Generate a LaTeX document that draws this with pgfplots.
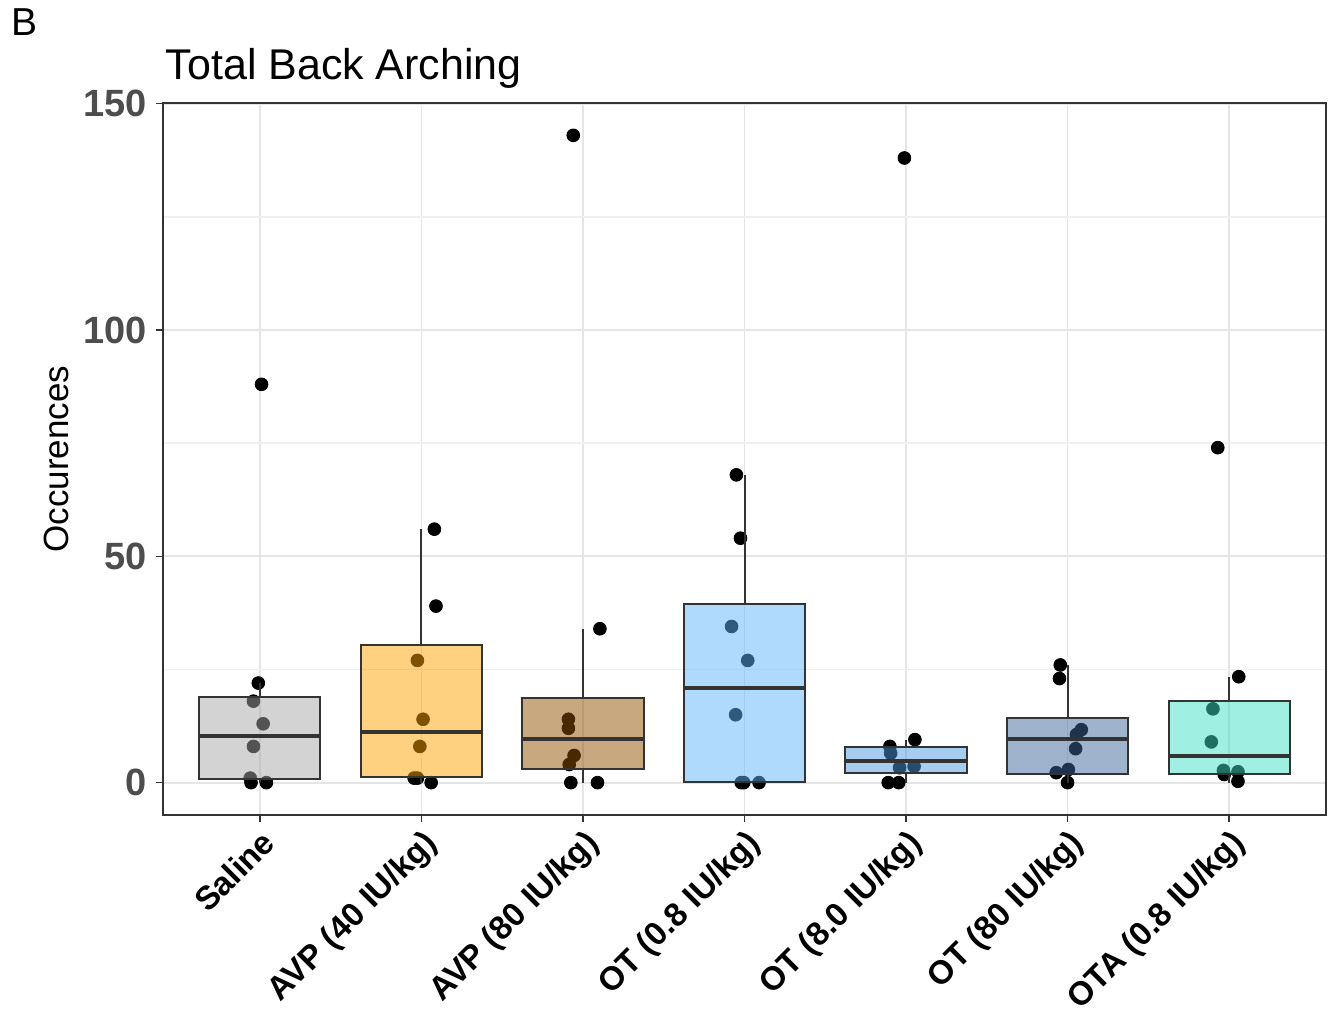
\documentclass[border=0pt]{standalone}
\usepackage{fontspec}
\setmainfont{Liberation Sans}
\usepackage{pgfplots}
\pgfplotsset{compat=1.18}
\usepgfplotslibrary{statistics}
\definecolor{c1}{RGB}{167,167,167}
\definecolor{c2}{RGB}{251,163,0}
\definecolor{c3}{RGB}{145,81,0}
\definecolor{c4}{RGB}{97,181,251}
\definecolor{c5}{RGB}{77,155,223}
\definecolor{c6}{RGB}{63,105,153}
\definecolor{c7}{RGB}{63,225,197}
\definecolor{edge}{RGB}{51,51,51}
\definecolor{ticklab}{RGB}{77,77,77}
\begin{document}
\begin{tikzpicture}
\useasboundingbox (-81.5pt,-101pt) rectangle (588pt,407.5pt);
\node[anchor=base west, font=\fontsize{19.5}{19.5}\selectfont, inner sep=0pt] at (-76pt,389.5pt) {B};
\begin{axis}[
  at={(0,0)}, anchor=south west,
  scale only axis, width=581.5pt, height=356pt,
  xmin=0.4, xmax=7.6, ymin=-7.15, ymax=150.15,
  xtick={1,2,3,4,5,6,7},
  xticklabels={Saline, AVP (40 IU/kg), AVP (80 IU/kg), OT (0.8 IU/kg), OT (8.0 IU/kg), OT (80 IU/kg), OTA (0.8 IU/kg)},
  ytick={0,50,100,150}, minor ytick={25,75,125},
  grid=both,
  major grid style={draw=black!10, line width=0.9pt},
  minor grid style={draw=black!6, line width=0.7pt},
  axis line style={draw=edge, line width=1pt},
  tick style={draw=edge, line width=0.8pt},
  tick align=outside, tick pos=left,
  major tick length=3.5pt, minor tick length=0pt,
  /pgf/number format/assume math mode=true,
  yticklabel style={font=\bfseries\fontsize{19}{19}\selectfont, text=ticklab, xshift=-1pt},
  xticklabel style={font=\bfseries\fontsize{16.5}{16.5}\selectfont, rotate=45, anchor=north east, inner sep=2pt},
  ylabel={Occurences},
  ylabel style={at={(axis description cs:-0.0912,0.5)}, anchor=center, font=\fontsize{17.5}{17.5}\selectfont},
  boxplot/draw direction=y,
  boxplot/every median/.style={line width=2pt, draw=edge},
  clip=false, clip marker paths=true,
]
% jittered individual points (drawn first, boxes overlay them)
\addplot[only marks, mark=*, mark size=3.2pt, black] coordinates {
(1.01,88) (0.99,22) (0.96,18) (1.02,13) (0.96,8) (0.94,1) (0.945,0) (1.04,0)
(2.08,56) (2.09,39) (1.975,27) (2.01,14) (1.99,8) (1.955,1) (1.975,1) (2.06,0)
(2.94,143) (3.105,34) (2.91,14) (2.91,12) (2.945,6) (2.915,4) (2.925,0) (3.09,0)
(3.95,68) (3.975,54) (3.92,34.5) (4.02,27) (3.945,15) (3.98,0) (3.995,0) (4.09,0)
(4.99,138) (5.055,9.5) (4.9,8) (4.905,6.5) (4.96,3.3) (5.05,3.6) (4.89,0) (4.955,0)
(5.955,26) (5.95,23) (6.085,11.7) (6.055,10.6) (6.05,7.5) (5.93,2.2) (6.005,2.9) (6.0,0)
(6.93,74) (7.06,23.4) (6.9,16.3) (6.89,9) (6.965,2.7) (7.055,2.4) (6.97,1.8) (7.055,0.3)
};
\addplot[boxplot prepared={lower whisker=0, lower quartile=0.9, median=10.2, upper quartile=19.0, upper whisker=22, draw position=1, box extend=0.75, whisker extend=0}, draw=edge, line width=1pt, fill=c1, fill opacity=0.5] coordinates {};
\addplot[boxplot prepared={lower whisker=0, lower quartile=1.2, median=11.2, upper quartile=30.3, upper whisker=56, draw position=2, box extend=0.75, whisker extend=0}, draw=edge, line width=1pt, fill=c2, fill opacity=0.5] coordinates {};
\addplot[boxplot prepared={lower whisker=0, lower quartile=3.1, median=9.6, upper quartile=18.6, upper whisker=34, draw position=3, box extend=0.75, whisker extend=0}, draw=edge, line width=1pt, fill=c3, fill opacity=0.5] coordinates {};
\addplot[boxplot prepared={lower whisker=0, lower quartile=0.1, median=21.0, upper quartile=39.5, upper whisker=68, draw position=4, box extend=0.75, whisker extend=0}, draw=edge, line width=1pt, fill=c4, fill opacity=0.5] coordinates {};
\addplot[boxplot prepared={lower whisker=0, lower quartile=2.2, median=4.8, upper quartile=7.9, upper whisker=9.5, draw position=5, box extend=0.75, whisker extend=0}, draw=edge, line width=1pt, fill=c5, fill opacity=0.5] coordinates {};
\addplot[boxplot prepared={lower whisker=0, lower quartile=2.0, median=9.7, upper quartile=14.3, upper whisker=26, draw position=6, box extend=0.75, whisker extend=0}, draw=edge, line width=1pt, fill=c6, fill opacity=0.5] coordinates {};
\addplot[boxplot prepared={lower whisker=0, lower quartile=2.0, median=5.8, upper quartile=18.0, upper whisker=23.4, draw position=7, box extend=0.75, whisker extend=0}, draw=edge, line width=1pt, fill=c7, fill opacity=0.5] coordinates {};
\node[anchor=base west, font=\fontsize{21.5}{21.5}\selectfont, inner sep=0pt] at (axis description cs:0.002,1) [yshift=11.5pt] {Total Back Arching};
\end{axis}
\end{tikzpicture}
\end{document}
